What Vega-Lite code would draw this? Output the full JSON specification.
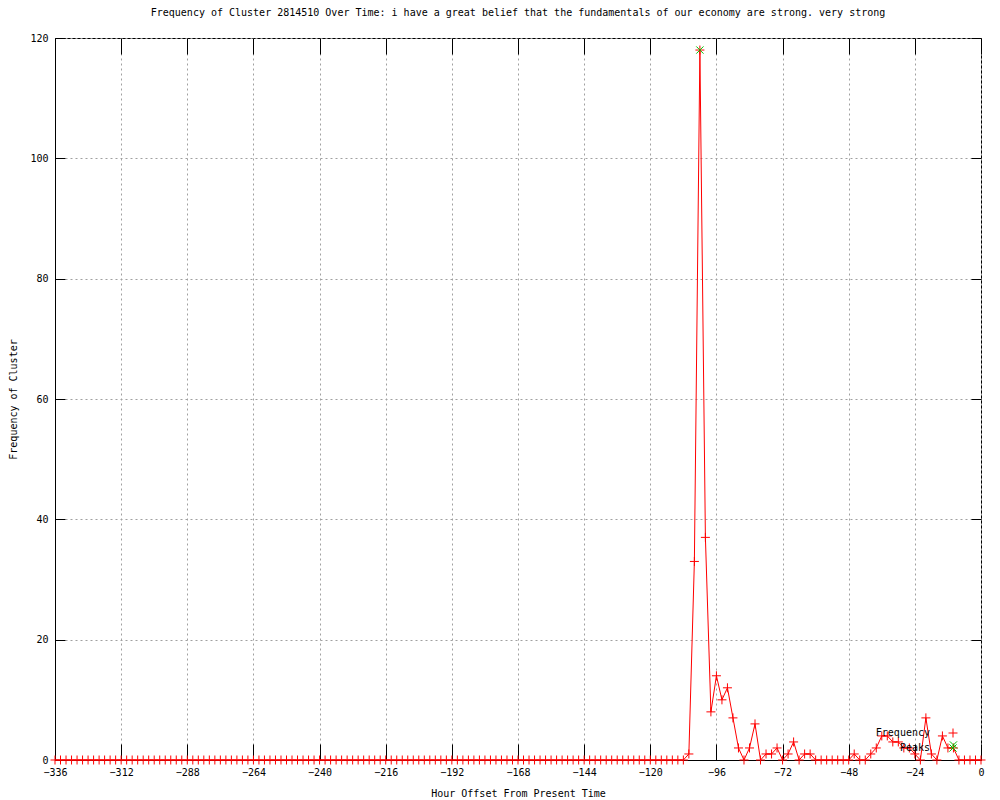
{
  "$schema": "https://vega.github.io/schema/vega-lite/v6.json",
  "width": 926,
  "height": 722,
  "autosize": {"type": "none"},
  "padding": {"left": 55, "top": 38, "right": 19, "bottom": 40},
  "background": "white",
  "title": {"text": "Frequency of Cluster 2814510 Over Time: i have a great belief that the fundamentals of our economy are strong. very strong", "font": "DejaVu Sans Mono", "fontSize": 10, "fontWeight": "normal", "color": "black", "offset": 15, "anchor": "middle"},
  "config": {
    "view": {"stroke": "black", "strokeWidth": 1},
    "font": "DejaVu Sans Mono",
    "axis": {"labelFont": "DejaVu Sans Mono", "labelFontSize": 10, "titleFont": "DejaVu Sans Mono", "titleFontSize": 10, "titleFontWeight": "normal", "labelColor": "black", "titleColor": "black", "domainColor": "black", "tickColor": "black", "gridColor": "#a0a0a0", "gridDash": [2, 3], "gridOpacity": 1, "gridWidth": 1},
    "legend": {"labelFont": "DejaVu Sans Mono", "labelFontSize": 10, "labelColor": "black"}
  },
  "datasets": {
    "freq": [
      {"h": -336, "f": 0}, {"h": -334, "f": 0}, {"h": -332, "f": 0}, {"h": -330, "f": 0}, {"h": -328, "f": 0}, {"h": -326, "f": 0}, {"h": -324, "f": 0}, {"h": -322, "f": 0}, {"h": -320, "f": 0}, {"h": -318, "f": 0},
      {"h": -316, "f": 0}, {"h": -314, "f": 0}, {"h": -312, "f": 0}, {"h": -310, "f": 0}, {"h": -308, "f": 0}, {"h": -306, "f": 0}, {"h": -304, "f": 0}, {"h": -302, "f": 0}, {"h": -300, "f": 0}, {"h": -298, "f": 0},
      {"h": -296, "f": 0}, {"h": -294, "f": 0}, {"h": -292, "f": 0}, {"h": -290, "f": 0}, {"h": -288, "f": 0}, {"h": -286, "f": 0}, {"h": -284, "f": 0}, {"h": -282, "f": 0}, {"h": -280, "f": 0}, {"h": -278, "f": 0},
      {"h": -276, "f": 0}, {"h": -274, "f": 0}, {"h": -272, "f": 0}, {"h": -270, "f": 0}, {"h": -268, "f": 0}, {"h": -266, "f": 0}, {"h": -264, "f": 0}, {"h": -262, "f": 0}, {"h": -260, "f": 0}, {"h": -258, "f": 0},
      {"h": -256, "f": 0}, {"h": -254, "f": 0}, {"h": -252, "f": 0}, {"h": -250, "f": 0}, {"h": -248, "f": 0}, {"h": -246, "f": 0}, {"h": -244, "f": 0}, {"h": -242, "f": 0}, {"h": -240, "f": 0}, {"h": -238, "f": 0},
      {"h": -236, "f": 0}, {"h": -234, "f": 0}, {"h": -232, "f": 0}, {"h": -230, "f": 0}, {"h": -228, "f": 0}, {"h": -226, "f": 0}, {"h": -224, "f": 0}, {"h": -222, "f": 0}, {"h": -220, "f": 0}, {"h": -218, "f": 0},
      {"h": -216, "f": 0}, {"h": -214, "f": 0}, {"h": -212, "f": 0}, {"h": -210, "f": 0}, {"h": -208, "f": 0}, {"h": -206, "f": 0}, {"h": -204, "f": 0}, {"h": -202, "f": 0}, {"h": -200, "f": 0}, {"h": -198, "f": 0},
      {"h": -196, "f": 0}, {"h": -194, "f": 0}, {"h": -192, "f": 0}, {"h": -190, "f": 0}, {"h": -188, "f": 0}, {"h": -186, "f": 0}, {"h": -184, "f": 0}, {"h": -182, "f": 0}, {"h": -180, "f": 0}, {"h": -178, "f": 0},
      {"h": -176, "f": 0}, {"h": -174, "f": 0}, {"h": -172, "f": 0}, {"h": -170, "f": 0}, {"h": -168, "f": 0}, {"h": -166, "f": 0}, {"h": -164, "f": 0}, {"h": -162, "f": 0}, {"h": -160, "f": 0}, {"h": -158, "f": 0},
      {"h": -156, "f": 0}, {"h": -154, "f": 0}, {"h": -152, "f": 0}, {"h": -150, "f": 0}, {"h": -148, "f": 0}, {"h": -146, "f": 0}, {"h": -144, "f": 0}, {"h": -142, "f": 0}, {"h": -140, "f": 0}, {"h": -138, "f": 0},
      {"h": -136, "f": 0}, {"h": -134, "f": 0}, {"h": -132, "f": 0}, {"h": -130, "f": 0}, {"h": -128, "f": 0}, {"h": -126, "f": 0}, {"h": -124, "f": 0}, {"h": -122, "f": 0}, {"h": -120, "f": 0}, {"h": -118, "f": 0},
      {"h": -116, "f": 0}, {"h": -114, "f": 0}, {"h": -112, "f": 0}, {"h": -110, "f": 0}, {"h": -108, "f": 0}, {"h": -106, "f": 1}, {"h": -104, "f": 33}, {"h": -102, "f": 118}, {"h": -100, "f": 37}, {"h": -98, "f": 8},
      {"h": -96, "f": 14}, {"h": -94, "f": 10}, {"h": -92, "f": 12}, {"h": -90, "f": 7}, {"h": -88, "f": 2}, {"h": -86, "f": 0}, {"h": -84, "f": 2}, {"h": -82, "f": 6}, {"h": -80, "f": 0}, {"h": -78, "f": 1},
      {"h": -76, "f": 1}, {"h": -74, "f": 2}, {"h": -72, "f": 0}, {"h": -70, "f": 1}, {"h": -68, "f": 3}, {"h": -66, "f": 0}, {"h": -64, "f": 1}, {"h": -62, "f": 1}, {"h": -60, "f": 0}, {"h": -58, "f": 0},
      {"h": -56, "f": 0}, {"h": -54, "f": 0}, {"h": -52, "f": 0}, {"h": -50, "f": 0}, {"h": -48, "f": 0}, {"h": -46, "f": 1}, {"h": -44, "f": 0}, {"h": -42, "f": 0}, {"h": -40, "f": 1}, {"h": -38, "f": 2},
      {"h": -36, "f": 4}, {"h": -34, "f": 4}, {"h": -32, "f": 3}, {"h": -30, "f": 3}, {"h": -28, "f": 2}, {"h": -26, "f": 2}, {"h": -24, "f": 1}, {"h": -22, "f": 0}, {"h": -20, "f": 7}, {"h": -18, "f": 1},
      {"h": -16, "f": 0}, {"h": -14, "f": 4}, {"h": -12, "f": 2}, {"h": -10, "f": 2}, {"h": -8, "f": 0}, {"h": -6, "f": 0}, {"h": -4, "f": 0}, {"h": -2, "f": 0}, {"h": 0, "f": 0}
    ],
    "peaks": [
      {"h": -102, "f": 118},
      {"h": -10, "f": 2.5}
    ]
  },
  "resolve": {"axis": {"x": "independent", "y": "independent"}},
  "layer": [
    {
      "data": {"name": "freq"},
      "mark": {"type": "line", "color": "#ff0000", "strokeWidth": 1},
      "encoding": {
        "x": {"field": "h", "type": "quantitative", "scale": {"domain": [-336, 0], "nice": false, "zero": false},
          "axis": {"orient": "bottom", "values": [-336, -312, -288, -264, -240, -216, -192, -168, -144, -120, -96, -72, -48, -24, 0], "title": "Hour Offset From Present Time", "ticks": false, "labelPadding": 7, "grid": true, "titleX": 463, "titleY": 33, "titleBaseline": "middle", "labelFlush": false}},
        "y": {"field": "f", "type": "quantitative", "scale": {"domain": [0, 120], "nice": false},
          "axis": {"orient": "left", "values": [0, 20, 40, 60, 80, 100, 120], "title": "Frequency of Cluster", "ticks": false, "labelPadding": 7, "grid": true, "titleX": -42, "titleY": 361, "titleBaseline": "middle", "titleAlign": "center", "titleAngle": -90}}
      }
    },
    {
      "data": {"name": "freq"},
      "mark": {"type": "point", "filled": false, "strokeWidth": 1, "opacity": 1},
      "encoding": {
        "x": {"field": "h", "type": "quantitative", "axis": {"orient": "top", "values": [-336, -312, -288, -264, -240, -216, -192, -168, -144, -120, -96, -72, -48, -24, 0], "labels": false, "title": null, "tickSize": -16, "grid": false, "domain": false}},
        "y": {"field": "f", "type": "quantitative", "axis": {"orient": "right", "values": [0, 20, 40, 60, 80, 100, 120], "labels": false, "title": null, "tickSize": -10, "grid": false, "domain": false}},
        "color": {"datum": "Frequency", "type": "nominal", "scale": {"domain": ["Frequency", "Peaks"], "range": ["#ff0000", "#00c000"]},
          "legend": {"title": null, "orient": "none", "legendX": 893, "legendY": 690, "labelAlign": "right", "labelOffset": -28, "rowPadding": 2, "padding": 0, "symbolStrokeWidth": 1, "symbolSize": 81}},
        "shape": {"datum": "Frequency", "type": "nominal", "scale": {"domain": ["Frequency", "Peaks"], "range": ["M-1,0L1,0M0,-1L0,1", "M-0.8,-0.8L0.8,0.8M-0.8,0.8L0.8,-0.8"]}, "legend": null},
        "size": {"value": 81}
      }
    },
    {
      "data": {"name": "peaks"},
      "mark": {"type": "point", "filled": false, "strokeWidth": 1, "opacity": 1},
      "encoding": {
        "x": {"field": "h", "type": "quantitative", "axis": {"orient": "bottom", "values": [-336, -312, -288, -264, -240, -216, -192, -168, -144, -120, -96, -72, -48, -24, 0], "labels": false, "title": null, "tickSize": -16, "grid": false, "domain": false}},
        "y": {"field": "f", "type": "quantitative", "axis": {"orient": "left", "values": [0, 20, 40, 60, 80, 100, 120], "labels": false, "title": null, "tickSize": -10, "grid": false, "domain": false}},
        "color": {"datum": "Peaks", "type": "nominal"},
        "shape": {"datum": "Peaks", "type": "nominal"},
        "size": {"value": 81}
      }
    }
  ]
}
